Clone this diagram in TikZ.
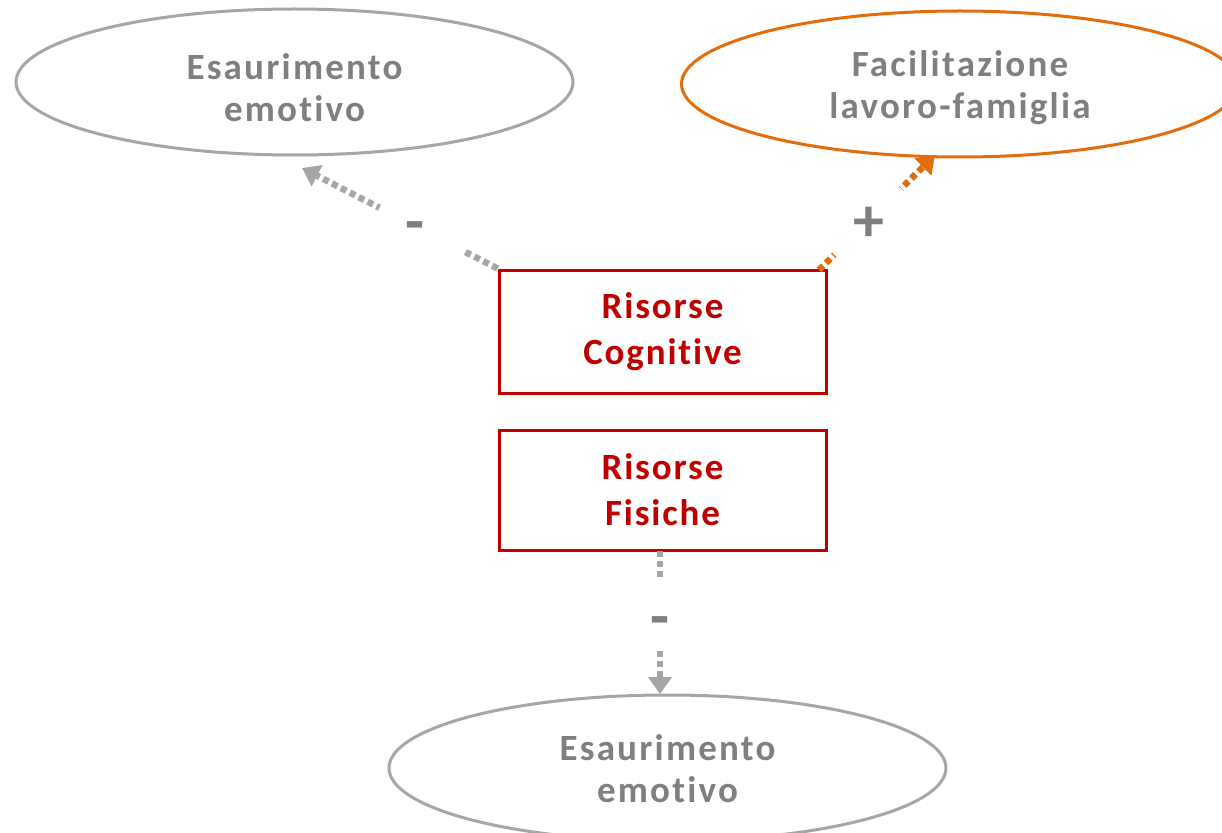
\documentclass[tikz,border=0pt]{standalone}
\usepackage{fontspec}
\setmainfont{Carlito}
\newfontfamily\spaced[LetterSpace=6,RawFeature=-liga]{Carlito}
\newfontfamily\spacedb[LetterSpace=5,RawFeature=-liga]{Carlito}
\usetikzlibrary{arrows.meta,shapes.geometric}
\definecolor{gline}{HTML}{A6A6A6}
\definecolor{gtext}{HTML}{7F7F7F}
\definecolor{myred}{HTML}{C00000}
\definecolor{myorange}{HTML}{E46C0A}
\begin{document}
\begin{tikzpicture}[x=1pt,y=-1pt,
  oval/.style={ellipse, draw=gline, line width=3pt, minimum width=557pt, minimum height=146pt, inner sep=0pt},
  ovaltext/.style={align=center, inner sep=0pt, text=gtext, font=\spaced\bfseries\fontsize{37}{42}\selectfont},
  resbox/.style={rectangle, draw=myred, line width=3pt, minimum width=327pt, align=center,
    text=myred, fill=white, font=\spacedb\bfseries\fontsize{37}{46}\selectfont},
  conn/.style={line width=6.5pt, dash pattern=on 6pt off 4pt, -{Triangle[width=23pt,length=17pt]}},
  gap/.style={circle, fill=white, inner sep=0pt},
  sign/.style={inner sep=0pt, text=gtext, font=\bfseries\fontsize{62}{62}\selectfont}
]
\useasboundingbox (0,0) rectangle (1222,832);

\node[oval] (esL) at (294.5,82) {};
\node[ovaltext] (esLt) at (294.5,88) {Esaurimento\\emotivo};
\node[oval, draw=myorange] (fac) at (960,84) {};
\node[ovaltext] (fact) at (960,88) {Facilitazione\\lavoro-famiglia};
\node[oval] (esB) at (667.5,768) {};
\node[ovaltext] (esBt) at (667.5,769) {Esaurimento\\emotivo};

\node[resbox, minimum height=123pt] (cog) at (662.5,331.5) {Risorse\\Cognitive};
\node[resbox, minimum height=120pt] (fis) at (662.5,490) {Risorse\\Fisiche};

\coordinate (tipL) at (302,168);
\coordinate (oStart) at (819,270);
\coordinate (tipR) at (935,155);
\coordinate (bStart) at (660,551);
\coordinate (tipB) at (660,694);

\draw[conn, gline] (cog.north west) -- node[gap, pos=0.39, minimum size=94pt] (gL) {} (tipL);
\draw[conn, myorange] (oStart) -- node[gap, pos=0.42, minimum size=94pt] (gR) {} (tipR);
\draw[conn, gline] (bStart) -- node[gap, pos=0.43, minimum size=71pt] (gB) {} (tipB);

\node[sign] (mL) at (415,232) {-};
\node[sign] (pR) at (868.5,224) {+};
\node[sign] (mB) at (660,627) {-};
\end{tikzpicture}
\end{document}
